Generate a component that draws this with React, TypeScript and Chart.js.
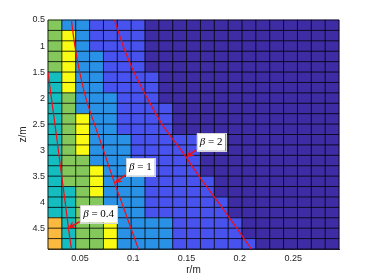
import { useEffect, useRef } from 'react';
import { Chart, registerables } from 'chart.js';

Chart.register(...registerables);

// cell edges (r in m, z in m)
const rEdges = [0.02, 0.033, 0.046, 0.059, 0.072, 0.085, 0.098, 0.111, 0.124, 0.137, 0.15, 0.163, 0.176, 0.189, 0.202, 0.215, 0.228, 0.241, 0.254, 0.267, 0.28, 0.293];
const zEdges = [0.5, 0.7, 0.9, 1.1, 1.3, 1.5, 1.7, 1.9, 2.1, 2.3, 2.5, 2.7, 2.9, 3.1, 3.3, 3.5, 3.7, 3.9, 4.1, 4.3, 4.5, 4.7, 4.9];

// colour level of each cell, one array per z row (top to bottom)
const row00 = [4, 2, 2, 1, 1, 1, 1, 0, 0, 0, 0, 0, 0, 0, 0, 0, 0, 0, 0, 0, 0];
const row01 = [4, 5, 2, 1, 1, 1, 1, 0, 0, 0, 0, 0, 0, 0, 0, 0, 0, 0, 0, 0, 0];
const row02 = [4, 5, 2, 1, 1, 1, 1, 0, 0, 0, 0, 0, 0, 0, 0, 0, 0, 0, 0, 0, 0];
const row03 = [4, 5, 2, 2, 1, 1, 1, 0, 0, 0, 0, 0, 0, 0, 0, 0, 0, 0, 0, 0, 0];
const row04 = [4, 5, 2, 2, 1, 1, 1, 0, 0, 0, 0, 0, 0, 0, 0, 0, 0, 0, 0, 0, 0];
const row05 = [3, 5, 2, 2, 1, 1, 1, 1, 0, 0, 0, 0, 0, 0, 0, 0, 0, 0, 0, 0, 0];
const row06 = [3, 5, 2, 2, 1, 1, 1, 1, 0, 0, 0, 0, 0, 0, 0, 0, 0, 0, 0, 0, 0];
const row07 = [3, 4, 2, 2, 2, 1, 1, 1, 0, 0, 0, 0, 0, 0, 0, 0, 0, 0, 0, 0, 0];
const row08 = [3, 4, 2, 2, 2, 1, 1, 1, 1, 0, 0, 0, 0, 0, 0, 0, 0, 0, 0, 0, 0];
const row09 = [3, 4, 5, 2, 2, 1, 1, 1, 1, 0, 0, 0, 0, 0, 0, 0, 0, 0, 0, 0, 0];
const row10 = [3, 4, 5, 2, 2, 1, 1, 1, 1, 0, 0, 0, 0, 0, 0, 0, 0, 0, 0, 0, 0];
const row11 = [3, 4, 5, 2, 2, 2, 1, 1, 1, 1, 1, 0, 0, 0, 0, 0, 0, 0, 0, 0, 0];
const row12 = [3, 4, 5, 2, 2, 2, 1, 1, 1, 1, 1, 0, 0, 0, 0, 0, 0, 0, 0, 0, 0];
const row13 = [3, 4, 4, 2, 2, 2, 1, 1, 1, 1, 1, 0, 0, 0, 0, 0, 0, 0, 0, 0, 0];
const row14 = [3, 4, 4, 5, 2, 2, 2, 1, 1, 1, 1, 0, 0, 0, 0, 0, 0, 0, 0, 0, 0];
const row15 = [3, 4, 4, 5, 2, 2, 2, 1, 1, 1, 1, 1, 0, 0, 0, 0, 0, 0, 0, 0, 0];
const row16 = [3, 3, 4, 5, 2, 2, 2, 1, 1, 1, 1, 1, 0, 0, 0, 0, 0, 0, 0, 0, 0];
const row17 = [3, 3, 4, 4, 2, 2, 2, 1, 1, 1, 1, 1, 1, 0, 0, 0, 0, 0, 0, 0, 0];
const row18 = [3, 3, 4, 4, 2, 2, 2, 1, 1, 1, 1, 1, 1, 0, 0, 0, 0, 0, 0, 0, 0];
const row19 = [6, 3, 4, 4, 5, 2, 2, 2, 2, 1, 1, 1, 1, 1, 0, 0, 0, 0, 0, 0, 0];
const row20 = [6, 3, 4, 4, 5, 2, 2, 2, 2, 1, 1, 1, 1, 1, 0, 0, 0, 0, 0, 0, 0];
const row21 = [6, 3, 4, 4, 5, 2, 2, 2, 2, 1, 1, 1, 1, 1, 1, 0, 0, 0, 0, 0, 0];
const cellRows = [row00, row01, row02, row03, row04, row05, row06, row07, row08, row09, row10, row11, row12, row13, row14, row15, row16, row17, row18, row19, row20, row21];

const palette = ['#3d2ca3', '#4852ee', '#2a92e6', '#14bdbf', '#84c85c', '#f9fb14', '#fbb93f'];

// red curves
const curveZ = [0.5, 1.0, 1.5, 2.0, 2.5, 3.0, 3.5, 4.0, 4.5, 4.9];
const beta04Z = [1.5, 2.0, 2.5, 3.0, 3.5, 4.0, 4.5, 4.9];
const beta04R = [0.02, 0.0232, 0.0265, 0.0297, 0.0329, 0.0361, 0.0392, 0.042];
const beta1R = [0.0419, 0.0452, 0.0497, 0.0555, 0.0636, 0.072, 0.0802, 0.089, 0.0978, 0.1048];
const beta2R = [0.0825, 0.0905, 0.1006, 0.1131, 0.1269, 0.1449, 0.1617, 0.1796, 0.1971, 0.2107];

const xTicks = [0.05, 0.1, 0.15, 0.2, 0.25];
const yTicks = [0.5, 1, 1.5, 2, 2.5, 3, 3.5, 4, 4.5];

// annotations: label, arrow tip (r, z), box bottom-left (r, z)
const annLabels = ['0.4', '1', '2'];
const annTipR = [0.0388, 0.0826, 0.1497];
const annTipZ = [4.5, 3.635, 3.13];
const annBoxR = [0.0497, 0.0928, 0.1591];
const annBoxZ = [4.373, 3.475, 2.994];

const RED = '#f01018';

const heatPlugin = {
  id: 'heat',
  beforeDatasetsDraw(chart: any) {
    const { ctx, scales } = chart;
    const xs = scales.x;
    const ys = scales.y;
    ctx.save();
    for (let r = 0; r < cellRows.length; r++) {
      for (let c = 0; c < cellRows[r].length; c++) {
        const x0 = xs.getPixelForValue(rEdges[c]);
        const x1 = xs.getPixelForValue(rEdges[c + 1]);
        const y0 = ys.getPixelForValue(zEdges[r]);
        const y1 = ys.getPixelForValue(zEdges[r + 1]);
        ctx.fillStyle = palette[cellRows[r][c]];
        ctx.fillRect(x0 - 0.3, y0 - 0.3, x1 - x0 + 0.6, y1 - y0 + 0.6);
      }
    }
    ctx.strokeStyle = 'rgba(0,0,0,0.8)';
    ctx.lineWidth = 1;
    const top = ys.getPixelForValue(zEdges[0]);
    const bot = ys.getPixelForValue(zEdges[zEdges.length - 1]);
    const left = xs.getPixelForValue(rEdges[0]);
    const right = xs.getPixelForValue(rEdges[rEdges.length - 1]);
    ctx.beginPath();
    for (const e of rEdges) {
      const p = xs.getPixelForValue(e);
      ctx.moveTo(p, top);
      ctx.lineTo(p, bot);
    }
    for (const e of zEdges) {
      const p = ys.getPixelForValue(e);
      ctx.moveTo(left, p);
      ctx.lineTo(right, p);
    }
    ctx.stroke();
    ctx.restore();
  },
  afterDatasetsDraw(chart: any) {
    const { ctx, scales } = chart;
    const xs = scales.x;
    const ys = scales.y;
    ctx.save();
    for (let i = 0; i < annLabels.length; i++) {
      const tx = xs.getPixelForValue(annTipR[i]);
      const ty = ys.getPixelForValue(annTipZ[i]);
      const bx = xs.getPixelForValue(annBoxR[i]);
      const by = ys.getPixelForValue(annBoxZ[i]);
      // arrow
      const ang = Math.atan2(ty - by, tx - bx);
      const hl = 7.5;
      const hw = 3.8;
      const ca = Math.cos(ang);
      const sa = Math.sin(ang);
      ctx.strokeStyle = RED;
      ctx.lineWidth = 1.6;
      ctx.beginPath();
      ctx.moveTo(bx, by);
      ctx.lineTo(tx - ca * hl * 0.6, ty - sa * hl * 0.6);
      ctx.stroke();
      ctx.fillStyle = RED;
      ctx.beginPath();
      ctx.moveTo(tx, ty);
      ctx.lineTo(tx - ca * hl - sa * hw, ty - sa * hl + ca * hw);
      ctx.lineTo(tx - ca * hl * 0.65, ty - sa * hl * 0.65);
      ctx.lineTo(tx - ca * hl + sa * hw, ty - sa * hl - ca * hw);
      ctx.closePath();
      ctx.fill();
      // box with text
      const fItal = 'italic 11px "Liberation Serif", "DejaVu Serif", serif';
      const fReg = '11px "Liberation Serif", "DejaVu Serif", serif';
      ctx.font = fItal;
      const wb = ctx.measureText('β').width;
      ctx.font = fReg;
      const rest = ' = ' + annLabels[i];
      const wr = ctx.measureText(rest).width;
      const pad = 3;
      const w = wb + wr + pad * 2;
      const h = 17.5;
      const x0 = bx + 0.5;
      const y0 = by - h + 1;
      ctx.fillStyle = '#ffffff';
      ctx.fillRect(x0, y0, w, h);
      ctx.strokeStyle = '#d4d4d4';
      ctx.lineWidth = 1;
      ctx.strokeRect(Math.round(x0) + 0.5, Math.round(y0) + 0.5, Math.round(w), Math.round(h));
      ctx.fillStyle = '#000000';
      ctx.textBaseline = 'middle';
      ctx.textAlign = 'left';
      const cy = y0 + h / 2 + 0.5;
      ctx.font = fItal;
      ctx.fillText('β', x0 + pad, cy);
      ctx.font = fReg;
      ctx.fillText(rest, x0 + pad + wb, cy);
    }
    ctx.restore();
  },
};

export default function App() {
  const ref = useRef<HTMLCanvasElement | null>(null);
  useEffect(() => {
    document.body.style.margin = '0';
    const canvas = ref.current;
    if (!canvas) return;
    const mk = (rs: number[], zs: number[]) => rs.map((r, i) => ({ x: r, y: zs[i] }));
    const lineStyle = {
      showLine: true,
      borderColor: RED,
      borderWidth: 1.2,
      pointRadius: 0,
      cubicInterpolationMode: 'monotone',
      clip: 0,
      fill: false,
    };
    const tickFont = { family: '"Liberation Sans", Arial, sans-serif', size: 9 };
    const titleFont = { family: '"Liberation Sans", Arial, sans-serif', size: 10 };
    const chart = new Chart(canvas, {
      type: 'scatter',
      data: {
        datasets: [
          { label: 'β = 0.4', data: mk(beta04R, beta04Z), ...lineStyle },
          { label: 'β = 1', data: mk(beta1R, curveZ), ...lineStyle },
          { label: 'β = 2', data: mk(beta2R, curveZ), ...lineStyle },
        ],
      },
      options: {
        animation: false,
        responsive: true,
        maintainAspectRatio: false,
        layout: { padding: { top: 20, right: 35, bottom: 0, left: 0 } },
        plugins: { legend: { display: false }, tooltip: { enabled: false } },
        scales: {
          x: {
            type: 'linear',
            min: 0.02,
            max: 0.293,
            z: 1,
            grid: { display: false, drawTicks: false },
            border: { display: true, color: '#262626', width: 1 },
            afterBuildTicks: (s: any) => {
              s.ticks = xTicks.map((v) => ({ value: v }));
            },
            afterFit: (s: any) => {
              s.height = 31;
            },
            ticks: {
              autoSkip: false,
              maxRotation: 0,
              padding: 4,
              color: '#262626',
              font: tickFont,
              callback: (v: any) => String(v),
            },
            title: { display: true, text: 'r/m', color: '#262626', font: titleFont, padding: { top: 0, bottom: 4 } },
          },
          y: {
            type: 'linear',
            min: 0.5,
            max: 4.9,
            reverse: true,
            z: 1,
            grid: { display: false, drawTicks: false },
            border: { display: true, color: '#262626', width: 1 },
            afterBuildTicks: (s: any) => {
              s.ticks = yTicks.map((v) => ({ value: v }));
            },
            afterFit: (s: any) => {
              s.width = 48;
            },
            ticks: {
              autoSkip: false,
              padding: 3,
              color: '#262626',
              font: tickFont,
              callback: (v: any) => String(v),
            },
            title: { display: true, text: 'z/m', color: '#262626', font: titleFont, padding: { top: 17, bottom: 0 } },
          },
        },
      },
      plugins: [heatPlugin],
    } as any);
    return () => chart.destroy();
  }, []);
  return (
    <div style={{ position: 'relative', width: 374, height: 280 }}>
      <canvas ref={ref} />
    </div>
  );
}
